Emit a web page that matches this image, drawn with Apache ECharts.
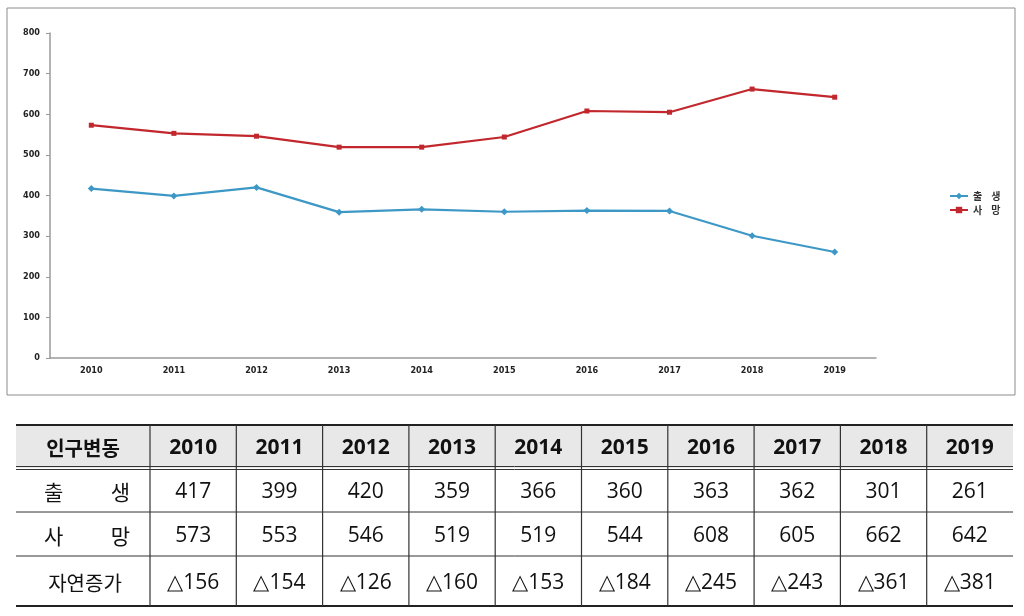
<!DOCTYPE html>
<html><head><meta charset="utf-8">
<script src="https://cdn.jsdelivr.net/npm/echarts@6/dist/echarts.min.js"></script>
<style>html,body{margin:0;padding:0;background:#fff}#c{width:1024px;height:616px}</style>
</head><body><div id="c"></div>
<script>
const years = ['2010','2011','2012','2013','2014','2015','2016','2017','2018','2019'];
const births = [417,399,420,359,366,360,363,362,301,261];
const deaths = [573,553,546,519,519,544,608,605,662,642];
const naturalIncrease = ['△156','△154','△126','△160','△153','△184','△245','△243','△361','△381'];
const yTicks = [0,100,200,300,400,500,600,700,800];
const rowLabels = ['출     생','사     망','자연증가'];
const headerLabel = '인구변동';

const chart = echarts.init(document.getElementById('c'));
const KFONT = '"Noto Sans CJK KR","Noto Sans",sans-serif';
const NFONT = '"Open Sans","Noto Sans",sans-serif';
const AFONT = '"Liberation Sans Narrow","DejaVu Sans Condensed",sans-serif';

const g = [];
g.push({type:'rect', shape:{x:7,y:8,width:1008,height:387}, style:{fill:'none',stroke:'#8c8c8c',lineWidth:1}, z:-1});
const tx0 = 16, tx1 = 1013, col0 = 150;
const colW = (tx1 - col0) / years.length;
const rowsY = [425, 468, 512, 556, 606];
const dy = 2;
g.push({type:'rect', shape:{x:tx0,y:rowsY[0],width:tx1-tx0,height:rowsY[1]-rowsY[0]}, style:{fill:'#e8e8e8'}});
g.push({type:'line', shape:{x1:tx0,y1:rowsY[0],x2:tx1,y2:rowsY[0]}, style:{stroke:'#222',lineWidth:2}});
g.push({type:'line', shape:{x1:tx0,y1:rowsY[1]-1.5,x2:tx1,y2:rowsY[1]-1.5}, style:{stroke:'#333',lineWidth:1}});
g.push({type:'line', shape:{x1:tx0,y1:rowsY[1]+1.5,x2:tx1,y2:rowsY[1]+1.5}, style:{stroke:'#333',lineWidth:1}});
g.push({type:'line', shape:{x1:tx0,y1:rowsY[2],x2:tx1,y2:rowsY[2]}, style:{stroke:'#333',lineWidth:1}});
g.push({type:'line', shape:{x1:tx0,y1:rowsY[3],x2:tx1,y2:rowsY[3]}, style:{stroke:'#333',lineWidth:1}});
g.push({type:'line', shape:{x1:tx0,y1:rowsY[4],x2:tx1,y2:rowsY[4]}, style:{stroke:'#222',lineWidth:2}});
for (let i = 0; i < years.length; i++) {
  const x = col0 + i * colW;
  g.push({type:'line', shape:{x1:x,y1:rowsY[0],x2:x,y2:rowsY[4]}, style:{stroke:'#333',lineWidth:1.2}});
}
function cellText(t, cx, cy, bold, size, fam) {
  g.push({type:'text', x:cx, y:cy, style:{text:t, fill:'#111', font:(bold?'bold ':'')+size+'px '+fam, align:'center', verticalAlign:'middle'}});
}
cellText(headerLabel, (tx0+col0)/2, (rowsY[0]+rowsY[1])/2+dy, true, 20, KFONT);
years.forEach((y,i)=>cellText(y, col0+colW*(i+0.5), (rowsY[0]+rowsY[1])/2+dy, true, 21, NFONT));
const rows = [births.map(String), deaths.map(String), naturalIncrease];
rows.forEach((r, ri) => {
  const cy = (rowsY[ri+1]+rowsY[ri+2])/2 + dy;
  const lbl = rowLabels[ri];
  if (ri < 2) {
    const parts = lbl.split(/\s+/);
    g.push({type:'text', x:44, y:cy, style:{text:parts[0], fill:'#111', font:'21px '+KFONT, align:'left', verticalAlign:'middle'}});
    g.push({type:'text', x:130, y:cy, style:{text:parts[1], fill:'#111', font:'21px '+KFONT, align:'right', verticalAlign:'middle'}});
  } else {
    g.push({type:'text', x:85, y:cy, style:{text:lbl, fill:'#111', font:'20px '+KFONT, align:'center', verticalAlign:'middle'}});
  }
  r.forEach((v,i)=>cellText(v, col0+colW*(i+0.5), cy, false, 21, NFONT));
});

chart.setOption({
  animation:false,
  backgroundColor:'#fff',
  grid:{left:50, right:148, top:33, bottom:258},
  legend:{
    orient:'vertical', left:944, top:186, itemGap:4, itemWidth:18, itemHeight:8,
    textStyle:{fontSize:10, fontWeight:'bold', color:'#333', fontFamily:KFONT},
    data:['출  생','사  망'],
    formatter: n => n.replace('  ', '    ')
  },
  xAxis:{
    type:'category', data:years, boundaryGap:true,
    axisLine:{lineStyle:{color:'#9a9a9a', width:1.5}},
    axisTick:{show:false},
    axisLabel:{fontSize:9, fontWeight:'bold', color:'#222', fontFamily:AFONT, margin:8}
  },
  yAxis:{
    type:'value', min:0, max:800, interval:100,
    axisLine:{show:true, lineStyle:{color:'#9a9a9a', width:1.5}},
    axisTick:{show:true, length:4, lineStyle:{color:'#9a9a9a'}},
    splitLine:{show:false},
    axisLabel:{fontSize:9, fontWeight:'bold', color:'#222', fontFamily:AFONT, margin:10}
  },
  series:[
    {name:'출  생', type:'line', data:births, symbol:'diamond', symbolSize:7,
     itemStyle:{color:'#3d98c6'}, lineStyle:{width:2.2, color:'#3d98c6'}},
    {name:'사  망', type:'line', data:deaths, symbol:'rect', symbolSize:5,
     itemStyle:{color:'#c1272d'}, lineStyle:{width:2.2, color:'#c1272d'}}
  ],
  graphic:g
});
</script></body></html>
